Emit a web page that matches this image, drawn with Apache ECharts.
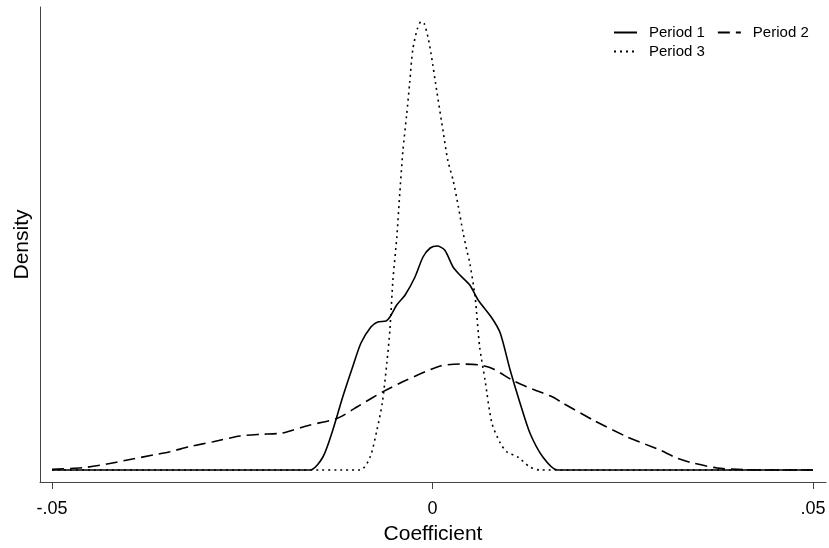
<!DOCTYPE html>
<html>
<head>
<meta charset="utf-8">
<script src="https://cdn.jsdelivr.net/npm/echarts@6/dist/echarts.min.js"></script>
<style>html,body{margin:0;padding:0;background:#fff;}#chart{width:829px;height:548px;}</style>
</head>
<body>
<div id="chart"></div>
<script>
// Coefficient (x) and estimated density (y)
const period1X = [-0.05, -0.0161, -0.0144, -0.0131, -0.0118, -0.0105, -0.0094, -0.0081, -0.0072, -0.0061, -0.0056, -0.0047, -0.0036, -0.0023, -0.00125, -0.0003, 0.0006, 0.0016, 0.0027, 0.0036, 0.0049, 0.0060, 0.0078, 0.0089, 0.0102, 0.0115, 0.0128, 0.0145, 0.0164, 0.05];
const period1Y = [0, 0, 3.9, 12, 21.9, 30.9, 38.1, 42.9, 44.4, 44.7, 45.9, 49.5, 52.5, 57.9, 63.9, 66.6, 67.2, 66, 60.9, 58.5, 55.5, 51, 45.6, 41.1, 30, 20.1, 11.1, 3.9, 0, 0];

const period2X = [-0.05, -0.0459, -0.0428, -0.0401, -0.0367, -0.0345, -0.0319, -0.0288, -0.0253, -0.0227, -0.0200, -0.0183, -0.0161, -0.0125, -0.0095, -0.0065, -0.0034, 0.0010, 0.0036, 0.0062, 0.0080, 0.0106, 0.0132, 0.0158, 0.0171, 0.0211, 0.0256, 0.0279, 0.0299, 0.0321, 0.0342, 0.0374, 0.0408, 0.0457, 0.05];
const period2Y = [0.2, 0.7, 1.8, 3.0, 4.5, 5.5, 7.0, 8.5, 10.2, 10.7, 11.0, 12.0, 13.5, 15.5, 19.5, 23.5, 27.0, 31.2, 31.8, 31.5, 30.3, 26.8, 24.2, 21.9, 20.1, 15.0, 9.9, 7.8, 6.0, 3.6, 2.1, 0.6, 0.1, 0, 0];

const period3X = [-0.05, -0.0095, -0.0082, -0.0073, -0.0066, -0.0060, -0.0056, -0.0052, -0.0047, -0.0043, -0.0039, -0.0034, -0.0030, -0.0026, -0.0020, -0.0015, -0.0011, -0.0006, -0.0002, 0.0006, 0.0014, 0.0020, 0.0027, 0.0034, 0.0040, 0.0045, 0.0049, 0.0056, 0.0062, 0.0069, 0.0078, 0.0089, 0.0098, 0.0112, 0.0128, 0.0141, 0.05];
const period3Y = [0, 0, 3.9, 12, 20.1, 32.1, 42, 57, 69.6, 83, 95.5, 106.5, 116.1, 126, 132.3, 134.5, 134, 129.9, 125, 113.1, 101.5, 93, 87, 79, 71.4, 66, 62.1, 51.9, 36.9, 27, 14.1, 8.1, 5.4, 3.9, 0.9, 0, 0];

const seriesNames = ['Period 1', 'Period 2', 'Period 3'];
const tickValues = [-0.05, 0, 0.05];
const tickLabels = ['-.05', '0', '.05'];

const pairs = (xs, ys) => xs.map((x, i) => [x, ys[i]]);
const font = 'Liberation Sans, Arial, sans-serif';

const chart = echarts.init(document.getElementById('chart'), null, {renderer: 'canvas'});
const mk = (name, xs, ys, dash) => ({
  name: name,
  type: 'line',
  data: pairs(xs, ys),
  symbol: 'none',
  smooth: 0.25,
  lineStyle: {color: '#000', width: 1.6, type: dash},
  itemStyle: {color: '#000'},
  animation: false
});
const legendBase = {
  padding: 0,
  itemWidth: 23, itemHeight: 14, itemGap: 12,
  itemStyle: {opacity: 0, color: 'rgba(0,0,0,0)', borderWidth: 0},
  textStyle: {fontFamily: font, fontSize: 15, color: '#000', padding: [0, 0, 0, 7]}
};

chart.setOption({
  backgroundColor: '#fff',
  animation: false,
  grid: {left: 40, right: 3, top: 7, bottom: 66, containLabel: false, outerBoundsMode: 'none'},
  legend: [
    Object.assign({data: [seriesNames[0], seriesNames[1]], left: 613, top: 25}, legendBase),
    Object.assign({data: [seriesNames[2]], left: 613, top: 44}, legendBase)
  ],
  xAxis: {
    type: 'value',
    min: -0.05158, max: 0.05171,
    name: 'Coefficient', nameLocation: 'middle', nameGap: 42,
    nameTextStyle: {fontFamily: font, fontSize: 21, color: '#000'},
    axisLine: {show: true, onZero: false, lineStyle: {color: '#444', width: 1}},
    axisTick: {show: true, length: 7, customValues: tickValues, lineStyle: {color: '#444'}},
    axisLabel: {
      customValues: tickValues, margin: 18,
      fontFamily: font, fontSize: 18, color: '#000',
      formatter: v => { const i = tickValues.findIndex(t => Math.abs(t - v) < 1e-9); return i >= 0 ? tickLabels[i] : ''; }
    },
    splitLine: {show: false}
  },
  yAxis: {
    type: 'value',
    min: -3.6, max: 138.9,
    name: 'Density', nameLocation: 'middle', nameGap: 7,
    nameTextStyle: {fontFamily: font, fontSize: 21, color: '#000'},
    axisLine: {show: true, onZero: false, lineStyle: {color: '#444', width: 1}},
    axisTick: {show: false},
    axisLabel: {show: false},
    splitLine: {show: false}
  },
  series: [
    mk(seriesNames[2], period3X, period3Y, [2, 4]),
    mk(seriesNames[1], period2X, period2Y, [12, 6]),
    mk(seriesNames[0], period1X, period1Y, 'solid')
  ]
});
</script>
</body>
</html>
